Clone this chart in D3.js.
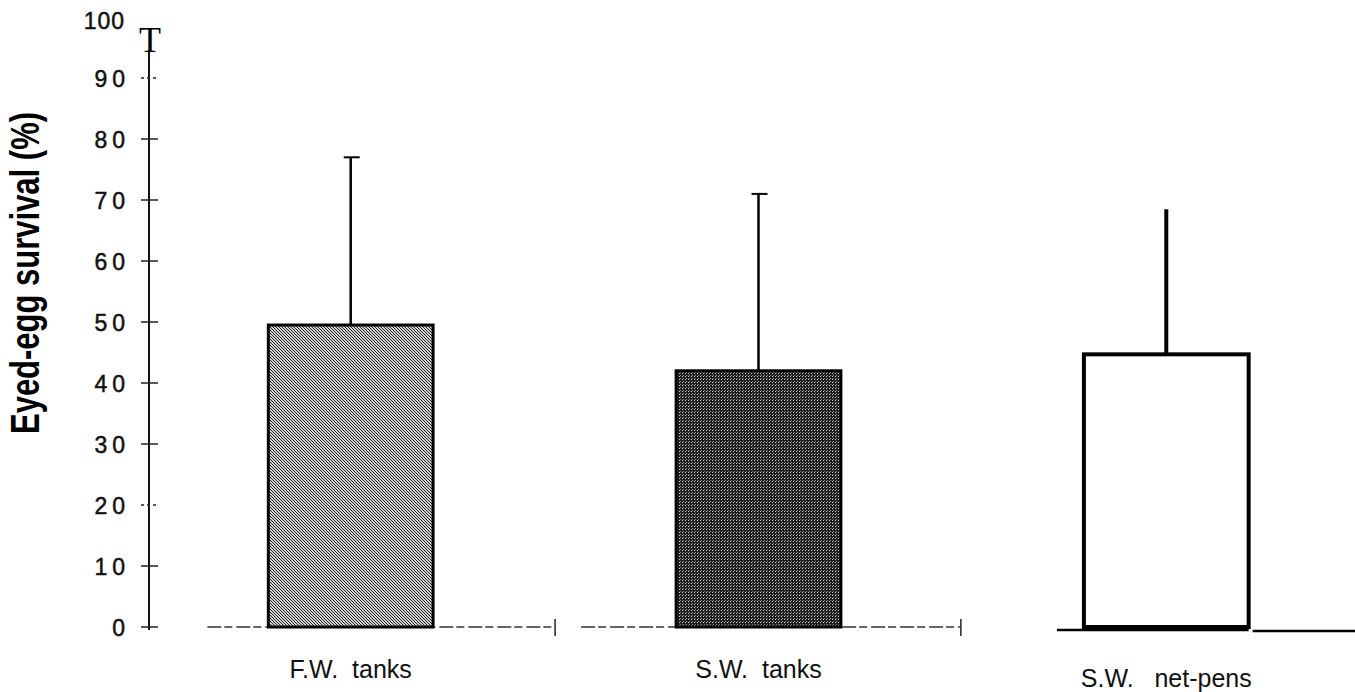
<!DOCTYPE html>
<html>
<head>
<meta charset="utf-8">
<script src="https://cdn.jsdelivr.net/npm/d3@7"></script>
<style>
  body { margin: 0; background: #fff; }
  svg { display: block; font-family: Arial, "Liberation Sans", sans-serif; }
</style>
</head>
<body>
<div id="chart"></div>
<script>
// values
const categories = ['F.W.  tanks', 'S.W.  tanks', 'S.W.   net-pens']
const means = [49.5, 42, 44.7]
const upperErr = [77, 71, 68.5]
const yTicks = [0, 10, 20, 30, 40, 50, 60, 70, 80, 90, 100]
const yLabel = 'Eyed-egg survival (%)'

const width = 1355
const height = 692

const svg = d3.select('#chart').append('svg').attr('width', width).attr('height', height)

const defs = svg.append('defs')
// light stippled fill
const p1 = defs.append('pattern').attr('id', 'fw').attr('patternUnits', 'userSpaceOnUse').attr('width', 3).attr('height', 3)
p1.append('rect').attr('width', 3).attr('height', 3).attr('fill', '#d2d2d2')
p1.append('path').attr('d', 'M0,0 L3,3 M-1,2 L1,4 M2,-1 L4,1').attr('stroke', '#222').attr('stroke-width', 1)
// dark stippled fill
const p2 = defs.append('pattern').attr('id', 'sw').attr('patternUnits', 'userSpaceOnUse').attr('width', 3).attr('height', 3)
p2.append('rect').attr('width', 3).attr('height', 3).attr('fill', '#1e1e1e')
p2.append('rect').attr('x', 1).attr('y', 1).attr('width', 1).attr('height', 1).attr('fill', '#d0d0d0')
p2.append('rect').attr('x', 2).attr('y', 0).attr('width', 1).attr('height', 1).attr('fill', '#8a8a8a')

const fills = ['url(#fw)', 'url(#sw)', '#fff']

const axisX = 149
const y = d3.scaleLinear().domain([0, 100]).range([627, 17])
const x = d3.scaleBand().domain(categories).range([146, 1371]).paddingInner(0.596).paddingOuter(0.3)

// y axis line + top "T"
svg.append('line')
  .attr('x1', axisX).attr('x2', axisX)
  .attr('y1', 50).attr('y2', y(0) + 3)
  .attr('stroke', '#111').attr('stroke-width', 2)
svg.append('text')
  .attr('x', axisX + 1).attr('y', 52)
  .attr('text-anchor', 'middle')
  .attr('font-family', '"Liberation Serif", "DejaVu Serif", serif')
  .attr('font-size', 36)
  .text('T')

const yAxis = d3.axisLeft(y).tickValues(yTicks).tickSize(0).tickPadding(0)
const gy = svg.append('g').attr('transform', `translate(${axisX},0)`).call(yAxis)
gy.select('.domain').remove()
gy.selectAll('.tick text')
  .attr('x', -24)
  .attr('dy', '0.36em')
  .style('font-size', '23px')
  .attr('fill', '#111')
  .attr('stroke', '#111')
  .attr('stroke-width', 0.5)
  .style('font-family', 'Arial, "Liberation Sans", sans-serif')
  .style('letter-spacing', (d) => (d >= 10 && d < 100 ? '5px' : '1px'))
  .attr('dx', (d) => (d >= 10 && d < 100 ? 5 : 1))
gy.selectAll('.tick').filter((d) => d === 100).select('text').attr('dy', '0.5em').attr('x', -25)

// crossing tick marks
svg.append('g')
  .selectAll('line')
  .data(yTicks.filter((d) => d < 100))
  .join('line')
  .attr('x1', axisX - 8).attr('x2', axisX + 9)
  .attr('y1', (d) => y(d)).attr('y2', (d) => y(d))
  .attr('stroke', '#222').attr('stroke-width', 1.5)
  .attr('stroke-dasharray', (d) => (d === 20 || d === 90 ? '3,3' : null))

// y label (scan is a bit stretched across the baseline)
svg.append('text')
  .attr('transform', `translate(39,${273}) rotate(-90) scale(1,1.3)`)
  .attr('text-anchor', 'middle')
  .attr('font-size', 31)
  .attr('font-weight', 'bold')
  .text(yLabel)

// baselines under each group
const bw = x.bandwidth()
const bases = svg.append('g')
categories.forEach((c, i) => {
  const x0 = x(c)
  if (i < 2) {
    bases.append('line')
      .attr('x1', x0 - (i === 0 ? 61 : 95)).attr('x2', x0 + bw + (i === 0 ? 122 : 120))
      .attr('y1', y(0)).attr('y2', y(0))
      .attr('stroke', '#333').attr('stroke-width', 1.3)
      .attr('stroke-dasharray', '14,3,8,4')
    const tx = x0 + bw + (i === 0 ? 122 : 120)
    bases.append('line')
      .attr('x1', tx).attr('x2', tx)
      .attr('y1', y(0) - 8).attr('y2', y(0) + 9)
      .attr('stroke', '#222').attr('stroke-width', 1.5)
  } else {
    bases.append('line')
      .attr('x1', x0 - 27).attr('x2', x0 + bw)
      .attr('y1', y(0) + 3).attr('y2', y(0) + 3)
      .attr('stroke', '#000').attr('stroke-width', 2.5)
    bases.append('line')
      .attr('x1', x0 + bw + 4).attr('x2', width)
      .attr('y1', y(0) + 4).attr('y2', y(0) + 4)
      .attr('stroke', '#000').attr('stroke-width', 2.5)
  }
})

// error bars (upper only)
const err = svg.append('g')
err.selectAll('line.stem')
  .data(categories)
  .join('line')
  .attr('class', 'stem')
  .attr('x1', (d) => x(d) + bw / 2).attr('x2', (d) => x(d) + bw / 2)
  .attr('y1', (d, i) => y(means[i])).attr('y2', (d, i) => y(upperErr[i]))
  .attr('stroke', '#000').attr('stroke-width', (d, i) => (i === 2 ? 4 : 2.5))
err.selectAll('line.cap')
  .data(categories.slice(0, 2))
  .join('line')
  .attr('class', 'cap')
  .attr('x1', (d) => x(d) + bw / 2 - 7).attr('x2', (d) => x(d) + bw / 2 + 9)
  .attr('y1', (d, i) => y(upperErr[i])).attr('y2', (d, i) => y(upperErr[i]))
  .attr('stroke', '#000').attr('stroke-width', 2)

// bars
svg.append('g')
  .selectAll('rect')
  .data(categories)
  .join('rect')
  .attr('x', (d) => x(d))
  .attr('y', (d, i) => y(means[i]))
  .attr('width', bw)
  .attr('height', (d, i) => y(0) - y(means[i]))
  .attr('fill', (d, i) => fills[i])
  .attr('stroke', '#000')
  .attr('stroke-width', (d, i) => (i === 2 ? 4 : 3))

// category labels
svg.append('g')
  .selectAll('text')
  .data(categories)
  .join('text')
  .attr('x', (d) => x(d) + bw / 2)
  .attr('y', (d, i) => (i === 2 ? 687 : 678))
  .attr('text-anchor', 'middle')
  .attr('font-size', 25)
  .attr('fill', '#111')
  .style('white-space', 'pre')
  .text((d) => d)
</script>
</body>
</html>
